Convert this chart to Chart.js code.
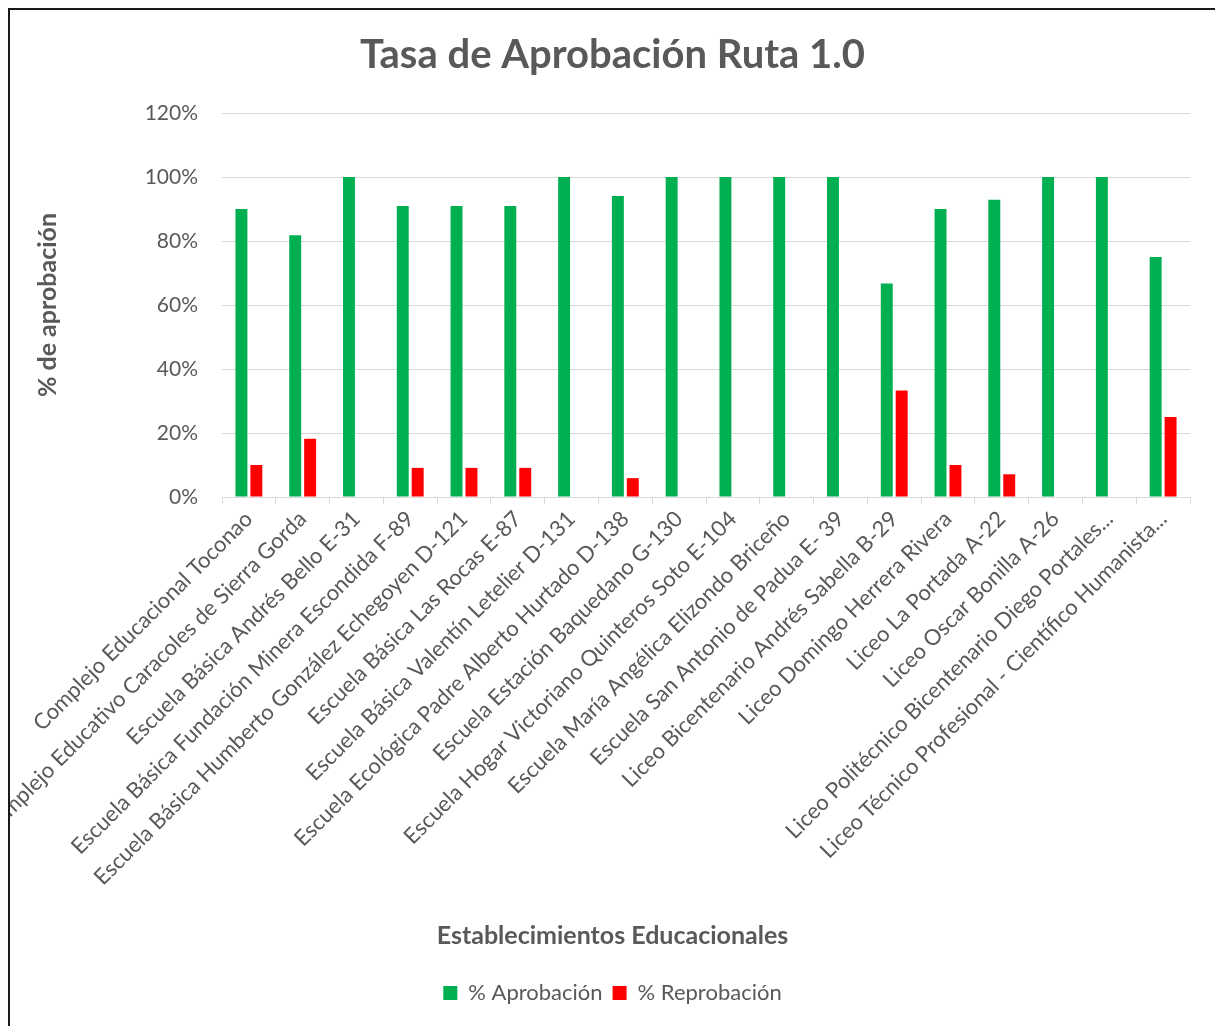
<!DOCTYPE html>
<html>
<head>
<meta charset="utf-8">
<script src="https://cdn.jsdelivr.net/npm/chart.js@4"></script>
<style>
    body { margin: 0; background: #fff; }
    #wrap {
        position: absolute;
        left: 8px;
        top: 8px;
        width: 1207px;
        height: 1018px;
        border-left: 2px solid #1a1a1a;
        border-top: 2px solid #1a1a1a;
        overflow: hidden;
    }
    canvas { display: block; }
</style>
</head>
<body>
<div id="wrap"><canvas id="aprobacionChart" width="1205" height="1016"></canvas></div>
<script>
const establecimientos = [
    'Complejo Educacional Toconao',
    'Complejo Educativo Caracoles de Sierra Gorda',
    'Escuela Básica Andrés Bello E-31',
    'Escuela Básica Fundación Minera Escondida F-89',
    'Escuela Básica Humberto González Echegoyen D-121',
    'Escuela Básica Las Rocas E-87',
    'Escuela Básica Valentín Letelier D-131',
    'Escuela Ecológica Padre Alberto Hurtado D-138',
    'Escuela Estación Baquedano G-130',
    'Escuela Hogar Victoriano Quinteros Soto E-104',
    'Escuela María Angélica Elizondo Briceño',
    'Escuela San Antonio de Padua E- 39',
    'Liceo Bicentenario Andrés Sabella B-29',
    'Liceo Domingo Herrera Rivera',
    'Liceo La Portada A-22',
    'Liceo Oscar Bonilla A-26',
    'Liceo Politécnico Bicentenario Diego Portales...',
    'Liceo Técnico Profesional - Científico Humanista...'
];
const aprobacion = [90, 81.8, 100, 90.9, 90.9, 90.9, 100, 94.1, 100, 100, 100, 100, 66.7, 90, 92.9, 100, 100, 75];
const reprobacion = [10, 18.2, 0, 9.1, 9.1, 9.1, 0, 5.9, 0, 0, 0, 0, 33.3, 10, 7.1, 0, 0, 25];
const ejeY = { min: 0, max: 120, paso: 20 };

const gris = '#595959';
const lineaGris = '#d9d9d9';
const fuente = 'Lato, Calibri, sans-serif';

document.addEventListener('DOMContentLoaded', () => {
    const ctx = document.getElementById('aprobacionChart').getContext('2d');
    new Chart(ctx, {
        type: 'bar',
        data: {
            labels: establecimientos,
            datasets: [{
                label: '% Aprobación',
                data: aprobacion,
                backgroundColor: '#00b050'
            }, {
                label: '% Reprobación',
                data: reprobacion,
                backgroundColor: '#ff0000'
            }]
        },
        options: {
            responsive: false,
            animation: false,
            categoryPercentage: 0.555,
            barPercentage: 0.8,
            layout: { padding: { left: 0, right: 0, top: 0, bottom: 12 } },
            plugins: {
                title: {
                    display: true,
                    text: 'Tasa de Aprobación Ruta 1.0',
                    color: gris,
                    font: { family: fuente, size: 40, weight: 'bold' },
                    padding: { top: 21, bottom: 34 }
                },
                // titulo del eje X centrado en todo el grafico, como en Excel
                subtitle: {
                    display: true,
                    position: 'bottom',
                    weight: 500,
                    text: 'Establecimientos Educacionales',
                    color: gris,
                    font: { family: fuente, size: 25, weight: 'bold' },
                    padding: { top: 25, bottom: 21 }
                },
                legend: {
                    position: 'bottom',
                    labels: {
                        color: gris,
                        font: { family: fuente, size: 22 },
                        boxWidth: 14,
                        boxHeight: 14,
                        padding: 10
                    }
                },
                tooltip: { enabled: false }
            },
            scales: {
                x: {
                    afterFit: s => { s.height = 399; },
                    grid: {
                        offset: true,
                        drawOnChartArea: false,
                        drawTicks: true,
                        tickLength: 7,
                        color: lineaGris
                    },
                    border: { color: lineaGris, width: 1 },
                    ticks: {
                        color: gris,
                        font: { family: fuente, size: 22 },
                        minRotation: 45,
                        maxRotation: 45,
                        autoSkip: false,
                        padding: 2
                    }
                },
                y: {
                    min: ejeY.min,
                    max: ejeY.max,
                    afterFit: s => { s.width = 212; },
                    grid: { color: lineaGris, lineWidth: 1, drawTicks: false },
                    border: { display: false },
                    ticks: {
                        stepSize: ejeY.paso,
                        color: gris,
                        font: { family: fuente, size: 21 },
                        padding: 24,
                        callback: v => v + '%'
                    },
                    title: {
                        display: true,
                        text: '% de aprobación',
                        color: gris,
                        font: { family: fuente, size: 25, weight: 'bold' },
                        padding: { top: 23, bottom: 0 }
                    }
                },
                // margen derecho vacio, para que los titulos queden centrados en todo el ancho
                margen: {
                    position: 'right',
                    afterFit: s => { s.width = 25; },
                    grid: { display: false },
                    border: { display: false },
                    ticks: { display: false }
                }
            }
        }
    });
});
</script>
</body>
</html>
